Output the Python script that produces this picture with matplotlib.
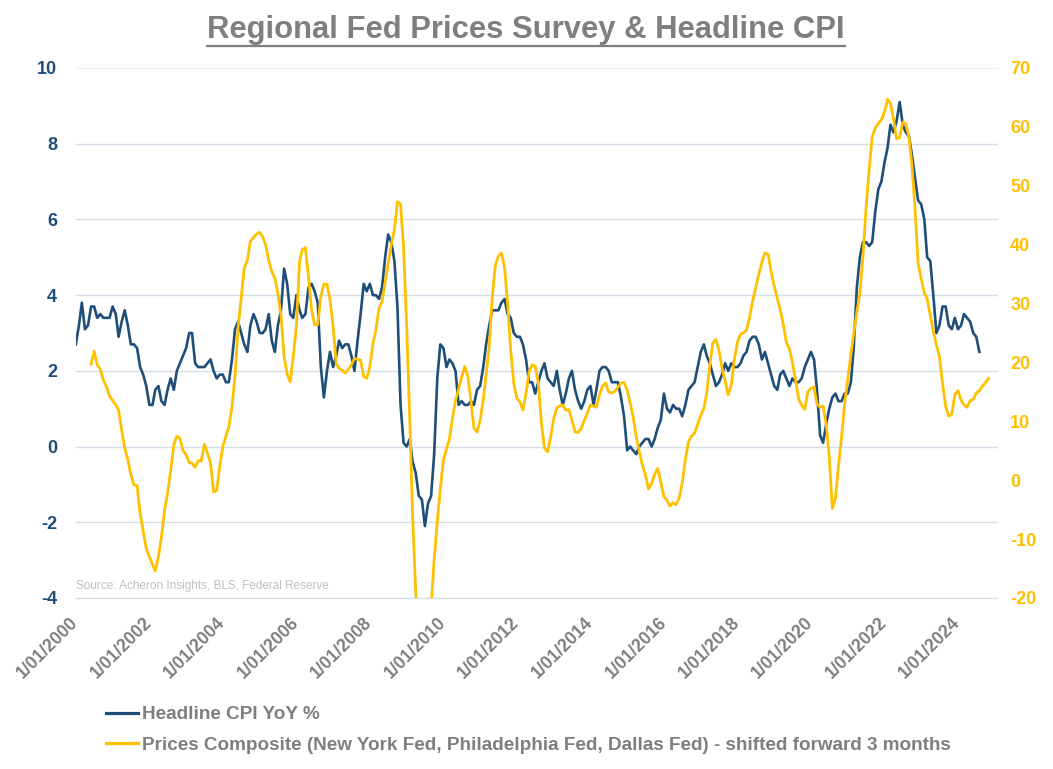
import numpy as np
import pandas as pd
import matplotlib
matplotlib.use('Agg')
import matplotlib.pyplot as plt
from matplotlib.lines import Line2D

plt.rcParams['font.family'] = ['Liberation Sans', 'DejaVu Sans']
plt.rcParams['axes.unicode_minus'] = False

# ---------------- data ----------------
title = 'Regional Fed Prices Survey & Headline CPI'
source_note = 'Source: Acheron Insights, BLS, Federal Reserve'
cpi_label = 'Headline CPI YoY %'
prices_label = ('Prices Composite (New York Fed, Philadelphia Fed, Dallas Fed) '
                '- shifted forward 3 months')

cpi_start = '2000-01-01'
cpi_yoy = [
    2.7, 3.2, 3.8, 3.1, 3.2, 3.7, 3.7, 3.4, 3.5, 3.4, 3.4, 3.4,      # 2000
    3.7, 3.5, 2.9, 3.3, 3.6, 3.2, 2.7, 2.7, 2.6, 2.1, 1.9, 1.6,      # 2001
    1.1, 1.1, 1.5, 1.6, 1.2, 1.1, 1.5, 1.8, 1.5, 2.0, 2.2, 2.4,      # 2002
    2.6, 3.0, 3.0, 2.2, 2.1, 2.1, 2.1, 2.2, 2.3, 2.0, 1.8, 1.9,      # 2003
    1.9, 1.7, 1.7, 2.3, 3.1, 3.3, 3.0, 2.7, 2.5, 3.2, 3.5, 3.3,      # 2004
    3.0, 3.0, 3.1, 3.5, 2.8, 2.5, 3.2, 3.6, 4.7, 4.3, 3.5, 3.4,      # 2005
    4.0, 3.6, 3.4, 3.5, 4.2, 4.3, 4.1, 3.8, 2.1, 1.3, 2.0, 2.5,      # 2006
    2.1, 2.4, 2.8, 2.6, 2.7, 2.7, 2.4, 2.0, 2.8, 3.5, 4.3, 4.1,      # 2007
    4.3, 4.0, 4.0, 3.9, 4.2, 5.0, 5.6, 5.4, 4.9, 3.7, 1.1, 0.1,      # 2008
    0.0, 0.2, -0.4, -0.7, -1.3, -1.4, -2.1, -1.5, -1.3, -0.2, 1.8, 2.7,  # 2009
    2.6, 2.1, 2.3, 2.2, 2.0, 1.1, 1.2, 1.1, 1.1, 1.2, 1.1, 1.5,      # 2010
    1.6, 2.1, 2.7, 3.2, 3.6, 3.6, 3.6, 3.8, 3.9, 3.5, 3.4, 3.0,      # 2011
    2.9, 2.9, 2.7, 2.3, 1.7, 1.7, 1.4, 1.7, 2.0, 2.2, 1.8, 1.7,      # 2012
    1.6, 2.0, 1.5, 1.1, 1.4, 1.8, 2.0, 1.5, 1.2, 1.0, 1.2, 1.5,      # 2013
    1.6, 1.1, 1.5, 2.0, 2.1, 2.1, 2.0, 1.7, 1.7, 1.7, 1.3, 0.8,      # 2014
    -0.1, 0.0, -0.1, -0.2, 0.0, 0.1, 0.2, 0.2, 0.0, 0.2, 0.5, 0.7,   # 2015
    1.4, 1.0, 0.9, 1.1, 1.0, 1.0, 0.8, 1.1, 1.5, 1.6, 1.7, 2.1,      # 2016
    2.5, 2.7, 2.4, 2.2, 1.9, 1.6, 1.7, 1.9, 2.2, 2.0, 2.2, 2.1,      # 2017
    2.1, 2.2, 2.4, 2.5, 2.8, 2.9, 2.9, 2.7, 2.3, 2.5, 2.2, 1.9,      # 2018
    1.6, 1.5, 1.9, 2.0, 1.8, 1.6, 1.8, 1.7, 1.7, 1.8, 2.1, 2.3,      # 2019
    2.5, 2.3, 1.5, 0.3, 0.1, 0.6, 1.0, 1.3, 1.4, 1.2, 1.2, 1.4,      # 2020
    1.4, 1.7, 2.6, 4.2, 5.0, 5.4, 5.4, 5.3, 5.4, 6.2, 6.8, 7.0,      # 2021
    7.5, 7.9, 8.5, 8.3, 8.6, 9.1, 8.5, 8.3, 8.2, 7.7, 7.1, 6.5,      # 2022
    6.4, 6.0, 5.0, 4.9, 4.0, 3.0, 3.2, 3.7, 3.7, 3.2, 3.1, 3.4,      # 2023
    3.1, 3.2, 3.5, 3.4, 3.3, 3.0, 2.9, 2.5,                          # 2024
]

prices_start = '2000-06-01'
prices_composite = [
    19.7, 21.9, 19.6, 18.8, 17.0, 15.9, 14.3,                                   # 2000 Jun-Dec
    13.5, 12.8, 11.9, 8.5, 5.5, 3.5, 1.0, -0.8, -0.9, -5.6, -8.7, -11.6,        # 2001
    -13.0, -14.3, -15.4, -13.0, -9.6, -5.1, -2.2, 1.7, 6.0, 7.5, 7.1, 5.1,      # 2002
    4.3, 3.0, 2.9, 2.2, 3.3, 3.3, 6.1, 4.6, 2.9, -2.0, -1.7, 2.3,               # 2003
    5.7, 7.5, 9.1, 12.5, 17.6, 26.0, 31.0, 36.0, 37.4, 40.6, 41.2, 41.8,        # 2004
    42.1, 41.3, 40.0, 37.3, 35.4, 34.3, 31.7, 28.0, 21.0, 18.0, 16.7, 21.0,     # 2005
    26.1, 37.1, 39.2, 39.5, 34.6, 28.9, 26.4, 26.4, 31.2, 33.3, 33.3, 30.6,     # 2006
    26.1, 19.8, 19.0, 18.7, 18.2, 18.8, 19.6, 20.7, 20.5, 20.4, 17.6, 17.3,     # 2007
    19.3, 23.2, 25.5, 29.2, 30.3, 33.5, 36.8, 40.0, 42.5, 47.3, 46.9, 39.6,     # 2008
    26.1, 10.0, -6.0, -19.0, -27.0, -31.0, -30.0, -27.0, -21.5, -13.5, -7.0, -1.5,  # 2009
    3.4, 5.3, 7.0, 10.5, 13.5, 15.5, 17.5, 19.3, 17.6, 13.5, 8.8, 8.2,          # 2010
    10.2, 13.6, 18.0, 22.7, 31.0, 36.5, 38.0, 38.6, 36.0, 30.0, 22.0, 16.5,     # 2011
    13.9, 13.3, 11.9, 14.8, 18.4, 19.6, 19.4, 16.5, 9.7, 5.5, 4.8, 7.3,         # 2012
    10.4, 12.3, 12.6, 12.8, 11.9, 12.0, 10.2, 8.2, 8.1, 8.8, 10.2, 11.4,        # 2013
    12.8, 12.6, 12.4, 14.5, 16.0, 16.5, 15.0, 14.8, 15.1, 15.8, 16.5, 16.6,     # 2014
    15.3, 13.0, 10.8, 7.4, 4.9, 2.6, 1.0, -1.5, -0.5, 1.0, 2.0, -0.3,           # 2015
    -2.8, -3.4, -4.4, -3.8, -4.2, -3.0, -0.5, 3.5, 6.5, 7.5, 8.0, 9.5,          # 2016
    11.0, 12.2, 14.7, 19.5, 23.3, 23.9, 22.0, 19.0, 16.8, 14.5, 16.3, 20.5,     # 2017
    23.5, 24.8, 25.0, 25.5, 27.6, 30.5, 32.6, 35.0, 37.0, 38.6, 38.4, 35.5,     # 2018
    33.0, 30.9, 29.0, 26.5, 23.5, 22.3, 20.0, 17.0, 13.8, 12.7, 12.0, 15.0,     # 2019
    15.6, 15.8, 13.0, 12.4, 12.6, 9.5, 4.0, -4.8, -3.0, 2.5, 7.4, 13.0,         # 2020
    17.2, 21.3, 24.8, 28.5, 31.7, 38.0, 46.0, 52.7, 58.3, 59.8, 60.6, 61.2,     # 2021
    62.5, 64.7, 64.0, 61.3, 58.0, 58.2, 60.8, 60.5, 58.3, 53.5, 46.0, 36.8,     # 2022
    34.2, 31.8, 30.8, 28.0, 25.3, 23.0, 21.0, 16.5, 12.5, 10.9, 11.2, 14.5,     # 2023
    15.2, 13.6, 12.8, 12.4, 13.5, 13.7, 14.8, 15.2, 16.0, 16.6, 17.3,           # 2024 Jan-Nov
]

left_ticks = [-4, -2, 0, 2, 4, 6, 8, 10]
right_ticks = [-20, -10, 0, 10, 20, 30, 40, 50, 60, 70]
x_tick_years = list(range(2000, 2025, 2))
x_tick_labels = ['1/01/%d' % y for y in x_tick_years]
x_min, x_max = '2000-01-01', '2025-01-23'

# ---------------- style ----------------
NAVY = '#1f4e79'
GOLD = '#ffc000'
GREY = '#7f7f7f'
GRID = '#d3dee9'

W, H = 1053, 769
fig = plt.figure(figsize=(W / 100, H / 100), dpi=100)
L, R, T, B = 75.8, 997, 68, 598
ax = fig.add_axes([L / W, 1 - B / H, (R - L) / W, (B - T) / H])

cpi_dates = pd.date_range(cpi_start, periods=len(cpi_yoy), freq='MS')
pr_dates = pd.date_range(prices_start, periods=len(prices_composite), freq='MS')

ax.plot(cpi_dates, cpi_yoy, color=NAVY, lw=1.9, solid_joinstyle='round', zorder=3)
ax.set_ylim(left_ticks[0], left_ticks[-1])
ax.set_yticks(left_ticks)
ax.set_xlim(pd.Timestamp(x_min), pd.Timestamp(x_max))
ax.set_xticks([pd.Timestamp('%d-01-01' % y) for y in x_tick_years])
ax.set_xticklabels(x_tick_labels, rotation=45, ha='right', va='center',
                   rotation_mode='anchor', fontsize=12.7, fontweight='bold', color=GREY)
ax.tick_params(axis='x', length=0, pad=16.0)
ax.tick_params(axis='y', length=0, pad=13.5, labelsize=13, labelcolor=NAVY)
for lab in ax.get_yticklabels():
    lab.set_fontweight('bold')
ax.grid(axis='y', color=GRID, lw=1.0)
ax.grid(axis='x', visible=False)
ygl = ax.get_ygridlines()
for gl in ygl:
    gl.set_clip_on(False)
ygl[-1].set_color('#edf1f5')
for s in ax.spines.values():
    s.set_visible(False)

ax2 = ax.twinx()
ax2.plot(pr_dates, prices_composite, color=GOLD, lw=2.0, solid_joinstyle='round', zorder=3)
ax2.set_ylim(right_ticks[0], right_ticks[-1])
ax2.set_yticks(right_ticks)
ax2.tick_params(axis='y', length=0, pad=9.5, labelsize=13, labelcolor=GOLD)
for lab in ax2.get_yticklabels():
    lab.set_fontweight('bold')
for s in ax2.spines.values():
    s.set_visible(False)

ax.text(0.0, 0.012, source_note, transform=ax.transAxes, fontsize=8.5,
        color='#bfbfbf', ha='left', va='bottom')

# title with underline
t = fig.text(526 / W, 1 - 30 / H, title, ha='center', va='center',
             fontsize=22.3, fontweight='bold', color=GREY)

# legend
handles = [Line2D([], [], color=NAVY, lw=2.3), Line2D([], [], color=GOLD, lw=2.3)]
fig.legend(handles, [cpi_label, prices_label], loc='upper left',
           bbox_to_anchor=(106 / W, 1 - 706 / H), frameon=False,
           borderpad=0, borderaxespad=0, handlelength=1.7, handletextpad=0.2,
           labelspacing=0.72, prop={'size': 13.55, 'weight': 'bold'},
           labelcolor=GREY)

fig.canvas.draw()
bb = t.get_window_extent(fig.canvas.get_renderer())
uy = bb.y0 - 1
fig.add_artist(Line2D([bb.x0 / W, bb.x1 / W], [uy / H, uy / H], color=GREY, lw=1.6,
                      transform=fig.transFigure))

fig.savefig('out.png', dpi=100)
